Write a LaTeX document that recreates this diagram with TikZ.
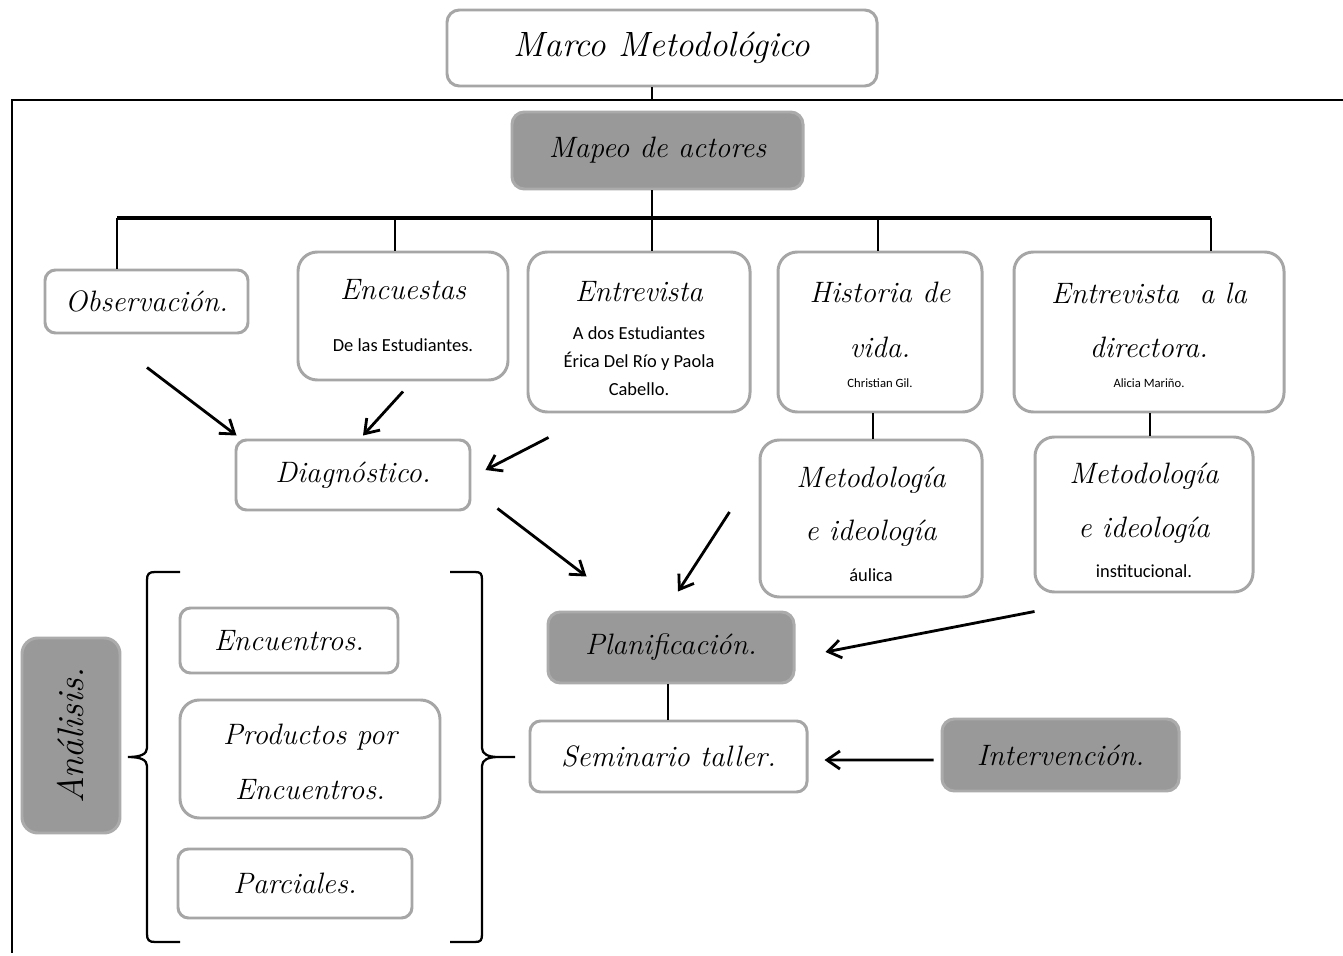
\documentclass[tikz,border=0pt]{standalone}
\usepackage{fontspec}
\usetikzlibrary{arrows.meta,calc}
\newfontfamily\sansf{Carlito}
\definecolor{bcol}{HTML}{A6A6A6}
\definecolor{gfill}{HTML}{999999}
\definecolor{gbcol}{HTML}{ABABAB}
\newcommand\ttlf{\fontsize{16.8}{16.8}\selectfont\itshape}
\newcommand\ttlbig{\fontsize{20}{20}\selectfont\itshape}
\newcommand\anf{\fontsize{21}{21}\selectfont\itshape}
\newcommand\subf{\fontsize{10.5}{10.5}\selectfont\sansf}
\newcommand\tinyf{\fontsize{7.2}{7.2}\selectfont\sansf}
\tikzset{
  box/.style={draw=bcol, line width=1.7pt, fill=white, inner sep=0pt, rounded corners=#1, font=\ttlf},
  box/.default=6pt,
  gbox/.style={draw=gbcol, line width=1.7pt, fill=gfill, inner sep=0pt, rounded corners=#1, font=\ttlf},
  gbox/.default=7pt,
  sz/.style 2 args={minimum width=#1*0.02cm, minimum height=#2*0.02cm},
  ttl/.style={font=\ttlf, inner sep=0pt},
  subt/.style={font=\subf, inner sep=0pt},
  tinyt/.style={font=\tinyf, inner sep=0pt},
  conn/.style={line width=1.1pt},
  arr/.style={line width=1.6pt, -{Straight Barb[length=2.6mm,width=3.6mm,line width=1.6pt]}},
  brack/.style={line width=1.3pt},
}
\begin{document}
\begin{tikzpicture}[x=0.02cm,y=-0.02cm]
\useasboundingbox (0,0) rectangle (1343,956);
\fill[white] (0,0) rectangle (1343,956);
% frame
\draw[line width=0.9pt] (1343,100) -- (12,100) -- (12,953);
% boxes
\node[box=7pt, sz={430}{76}, font=\ttlbig] (marco) at (662,48) {Marco Metodológico};
\node[gbox, sz={291}{77}] (mapeo) at (657.5,150.5) {Mapeo de actores};
\node[box, sz={203}{63}] (obs) at (146.5,301.5) {Observación.};
\node[box=11pt, sz={210}{128}] (enc) at (403,316) {};
\node[ttl] (encT) at (403,290) {Encuestas};
\node[subt] (encS) at (403,345) {De las Estudiantes.};
\node[box=11pt, sz={222}{160}] (ent) at (639,332) {};
\node[ttl] (entT) at (639,292) {Entrevista};
\node[subt] (entS1) at (639,333) {A dos Estudiantes};
\node[subt] (entS2) at (639,361) {Érica Del Río y Paola};
\node[subt] (entS3) at (639,389) {Cabello.};
\node[box=11pt, sz={204}{160}] (hist) at (880,332) {};
\node[ttl] (histT1) at (880,292) {Historia de};
\node[ttl] (histT2) at (880,347) {vida.};
\node[tinyt] (histS) at (880,383) {Christian Gil.};
\node[box=11pt, sz={270}{160}] (dir) at (1149,332) {};
\node[ttl] (dirT1) at (1149,293) {Entrevista \ a la};
\node[ttl] (dirT2) at (1149,347) {directora.};
\node[tinyt] (dirS) at (1149,383) {Alicia Mariño.};
\node[box, sz={234}{70}] (diag) at (353,475) {Diagnóstico.};
\node[box=11pt, sz={222}{157}] (met1) at (871,518.5) {};
\node[ttl] (met1T1) at (871,480) {Metodología};
\node[ttl] (met1T2) at (871,533) {e ideología};
\node[subt] (met1S) at (871,575) {áulica};
\node[box=11pt, sz={218}{155}] (met2) at (1144,514.5) {};
\node[ttl] (met2T1) at (1144,476) {Metodología};
\node[ttl] (met2T2) at (1144,530) {e ideología};
\node[subt] (met2S) at (1144,571) {institucional.};
\node[gbox, sz={246}{71}] (plan) at (671,647.5) {Planificación.};
\node[box, sz={277}{71}] (sem) at (668.5,756.5) {Seminario taller.};
\node[gbox, sz={237}{72}] (interv) at (1060.5,755) {Intervención.};
\node[box, sz={218}{65}] (enc2) at (289,640.5) {Encuentros.};
\node[box=11pt, sz={260}{118}] (prod) at (310,759) {};
\node[ttl] (prodT1) at (310,737) {Productos por};
\node[ttl] (prodT2) at (310,790) {Encuentros.};
\node[box, sz={234}{69}] (parc) at (295,883.5) {Parciales.};
\node[gbox=9pt, sz={98}{195}, font=\anf] (anal) at (71,735.5) {\rotatebox{90}{Análisis.}};
% tree connectors
\coordinate (top) at (652,100);
\draw[conn] (marco.south -| top) -- (top);
\coordinate (hub) at (652,218);
\coordinate (bL) at (117,218);
\coordinate (bR) at (1211,218);
\coordinate (b2) at (395,218);
\coordinate (b4) at (878,218);
\draw[conn] (mapeo.south -| hub) -- (hub);
\draw[line width=2pt] (bL) -- (bR);
\draw[conn] (bL) -- (bL |- obs.north);
\draw[conn] (b2) -- (b2 |- enc.north);
\draw[conn] (hub) -- (hub |- ent.north);
\draw[conn] (b4) -- (b4 |- hist.north);
\draw[conn] (bR) -- (bR |- dir.north);
\draw[conn] ($(hist.south)+(-7,0)$) -- ($(met1.north)+(2,0)$);
\draw[conn] ($(dir.south)+(1,0)$) -- ($(met2.north)+(6,0)$);
\draw[conn] ($(plan.south)+(-3,0)$) -- ($(sem.north)+(-0.5,0)$);
% arrows
\draw[arr] ($(obs.south)+(0.5,33)$) -- ($(diag.north west)+(2,-3)$);
\draw[arr] ($(enc.south)+(0,10)$) -- ($(diag.north)+(10,-3)$);
\draw[arr] ($(ent.south west)+(22,24)$) -- ($(diag.east)+(14,-5)$);
\draw[arr] ($(diag.south east)+(26,-3)$) -- ($(plan.north west)+(40,-34)$);
\draw[arr] ($(met1.west)+(-29,-6.5)$) -- ($(plan.north)+(7,-19)$);
\draw[arr] ($(met2.south west)+(1,18)$) -- ($(plan.east)+(30,4.5)$);
\draw[arr] ($(interv.west)+(-7,5)$) -- ($(sem.east)+(16,3.5)$);
% brackets
\draw[brack] (180,572) -- (155,572) .. controls (149,572) and (147,574) .. (147,580)
  -- (147,748) .. controls (147,754) and (141,757) .. (128,757)
  .. controls (141,757) and (147,760) .. (147,766)
  -- (147,934) .. controls (147,940) and (149,942) .. (155,942) -- (180,942);
\draw[brack] (450,572) -- (475,572) .. controls (481,572) and (482,574) .. (482,580)
  -- (482,748) .. controls (482,754) and (488,757) .. (498,757) -- (515,757)
  -- (498,757) .. controls (488,757) and (482,760) .. (482,766)
  -- (482,934) .. controls (482,940) and (481,942) .. (475,942) -- (450,942);
\end{tikzpicture}
\end{document}
